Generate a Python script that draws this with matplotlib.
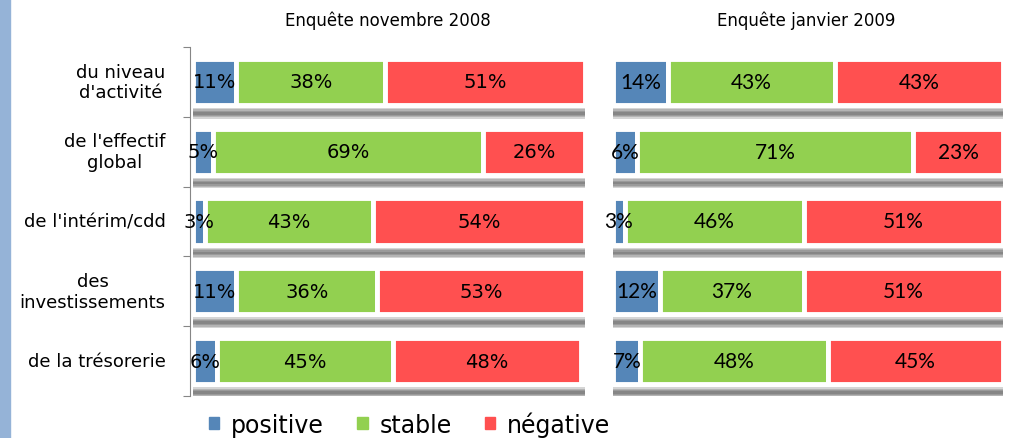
import matplotlib.pyplot as plt
import matplotlib.patches as mpatches
import numpy as np

# Data
categories = ["du niveau\nd'activité", "de l'effectif\nglobal", "de l'intérim/cdd",
              "des\ninvestissements", "de la trésorerie"]
titles = ["Enquête novembre 2008", "Enquête janvier 2009"]
series = ["positive", "stable", "négative"]

nov_positive = [11, 5, 3, 11, 6]
nov_stable = [38, 69, 43, 36, 45]
nov_negative = [51, 26, 54, 53, 48]

jan_positive = [14, 6, 3, 12, 7]
jan_stable = [43, 71, 46, 37, 48]
jan_negative = [43, 23, 51, 51, 45]

colors = ['#5586b8', '#92d050', '#ff5050']

fig = plt.figure(figsize=(10.11, 4.39), dpi=100)

# blue stripe on the left (slide decoration)
fig.patches.append(mpatches.Rectangle((0, 0), 10 / 1011, 1, transform=fig.transFigure,
                                      color='#95b3d7', zorder=0))

ax1 = fig.add_axes([190 / 1011, 42 / 439, 395 / 1011, 349 / 439])
ax2 = fig.add_axes([610 / 1011, 42 / 439, 393 / 1011, 349 / 439])

panels = [(ax1, [nov_positive, nov_stable, nov_negative], 'DejaVu Sans', 14),
          (ax2, [jan_positive, jan_stable, jan_negative], 'Lato', 15)]

y = np.arange(len(categories))
bar_h = 0.66

for ax, data, font, fsize in panels:
    # soft shadow below each row: overlapping strips -> gradient
    for hh in [0.15, 0.11, 0.07, 0.035]:
        ax.barh(y + bar_h / 2 + 0.12, 100, height=hh, left=0,
                color='#404040', alpha=0.22, linewidth=0, zorder=1)
    left = np.zeros(len(categories))
    for vals, c in zip(data, colors):
        vals = np.array(vals)
        ax.barh(y, vals, left=left, height=bar_h, color=c, edgecolor='white',
                linewidth=3.5, zorder=2)
        for yi, (l, v) in enumerate(zip(left, vals)):
            ax.text(l + v / 2, yi, f"{v}%", ha='center', va='center',
                    fontsize=fsize, family=font, zorder=3)
        left += vals
    ax.set_xlim(-0.8, 100)
    ax.set_ylim(len(categories) - 0.5, -0.5)
    ax.set_xticks([])
    for s in ['top', 'right', 'bottom']:
        ax.spines[s].set_visible(False)

ax1.set_title(titles[0], fontsize=12, pad=16)
ax2.set_title(titles[1], fontsize=12, pad=16)

ax1.spines['left'].set_color('#868686')
ax1.set_yticks(np.arange(-0.5, len(categories), 1.0))
ax1.set_yticklabels([])
ax1.tick_params(axis='y', length=5, color='#868686')
for yi, cat in enumerate(categories):
    ax1.text(-7, yi, cat, ha='right', va='center', multialignment='center',
             fontsize=13, transform=ax1.transData)

ax2.spines['left'].set_visible(False)
ax2.set_yticks([])

handles = [mpatches.Patch(color=c, label=s) for c, s in zip(colors, series)]
fig.legend(handles=handles, loc='lower center', bbox_to_anchor=(0.405, -0.045),
           ncol=3, frameon=False, fontsize=17, handlelength=0.45, handleheight=0.45,
           handletextpad=0.5, columnspacing=1.4)

plt.savefig('out.png', dpi=100)
